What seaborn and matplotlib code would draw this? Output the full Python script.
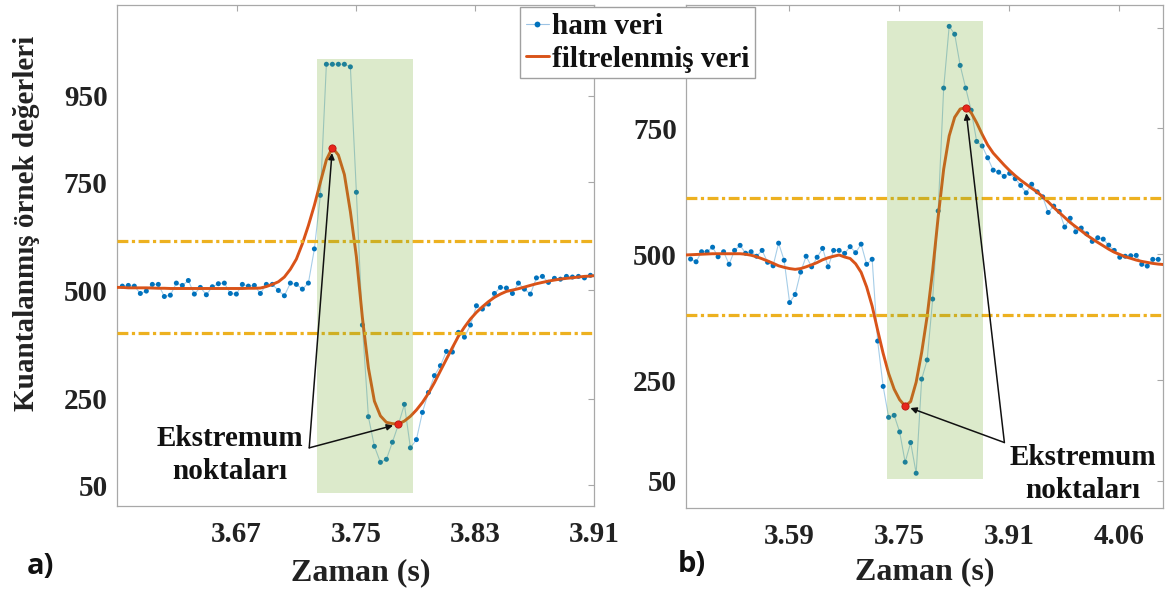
import numpy as np
import pandas as pd
import matplotlib
matplotlib.use("Agg")
import matplotlib.pyplot as plt
from matplotlib.lines import Line2D
from matplotlib.patches import Rectangle
import seaborn as sns

# ---------------- panel a) ----------------
a_t0 = 3.5933          # time of first raw sample (s)
a_dt = 0.004027        # sample period (s)
a_raw = [510, 511.6, 510, 493, 498.5, 514, 514, 486, 489, 517,
         511.6, 523, 491.6, 507, 490, 508.5, 515.5, 517, 493, 491.6,
         514, 510, 511.6, 493, 514, 514, 500, 487.7, 517, 514,
         503, 517, 596, 720, 1023, 1023, 1023, 1023, 1017, 727,
         420, 208, 139.5, 102.5, 109.5, 149, 190, 236.6, 136, 155,
         218, 264, 303, 326, 359, 357.5, 403, 392, 420, 464.6,
         457, 468.5, 493, 507, 505.5, 493, 517, 503, 491.6, 529,
         532.5, 518.6, 528, 526, 532.5, 531, 532.5, 529, 535, 535]
# filtered signal, starting one sample before a_t0
a_filt = [507, 507, 506, 506, 506, 506, 505.5, 505, 505, 504.5,
          504.5, 504.5, 504.5, 504.5, 504.5, 504.5, 504.5, 504.5, 504.5, 504.5,
          504.5, 504.5, 505, 505, 505.5, 509, 514, 520, 531, 549,
          572.5, 608, 650, 697, 750, 802, 830.5, 813, 768, 682,
          578, 437, 321, 244, 210, 195, 192, 191, 198, 209,
          223.5, 241, 262, 286.6, 314, 341, 368, 394, 415, 433.8,
          449.3, 462.3, 474, 484, 491.6, 497.8, 500.8, 504, 507.8, 511.7,
          515.5, 518.6, 521.6, 524, 526.3, 527.9, 529.3, 531, 532.5, 533.2,
          534.8]
a_thresholds = [615, 401]
a_window = [3.7237, 3.7885, 32, 1036]          # t0, t1, v0, v1
a_xticks = [3.67, 3.75, 3.83, 3.91]
a_xticklabels = ["3.67", "3.75", "3.83", "3.91"]
a_xlim = [3.5895, 3.91]
a_ylim = [1.5, 1160]
a_yticklabels = ["50", "250", "500", "750", "950"]

# ---------------- panel b) ----------------
b_t0 = 3.4512
b_dt = 0.007876
b_raw = [490.4, 485, 505, 505, 514, 495, 505, 480, 507.6, 517.6,
         502, 505, 496, 507.6, 484, 477, 522, 488, 404, 420,
         464.5, 496, 475, 494, 511.6, 475, 507.6, 507.6, 501.7, 515,
         503, 520, 480, 490, 327.5, 237.5, 176, 180, 147, 87,
         126, 65, 252, 290, 411, 586, 830, 952.6, 937, 875,
         830, 786, 724, 715, 691.6, 667, 663, 654.6, 660.6, 650,
         636.7, 622, 639, 624, 614, 583, 595.6, 585, 554, 571.5,
         544.5, 552, 540.6, 525.5, 532.7, 530, 518, 507.6, 494, 496,
         497, 497.7, 480, 476.5, 489.8, 489.8]
b_filt = [498.5, 499, 499.5, 500, 500.5, 501, 501, 501, 501, 501,
          501, 500, 498, 495, 491, 486.6, 482, 477, 474, 471.5,
          470, 471.5, 475, 479, 483.5, 489, 493, 496, 498.5, 494.5,
          491.5, 481, 464, 435, 397, 349, 303, 263, 232, 211,
          198.3, 207.5, 246, 305, 377, 468, 574, 669, 735, 772,
          788.5, 791, 781, 761, 738, 717, 701, 689, 677, 666,
          656, 647, 639, 631, 623.5, 614, 604, 593, 583, 573,
          563, 554.6, 546.6, 538, 530.7, 523.5, 516.8, 510, 504, 499.6,
          495, 491.8, 488.4, 485.8, 483.8, 481.8, 480.4, 479.5]
b_thresholds = [612, 380]
b_window = [3.732, 3.870, 53, 963]
b_xticks = [3.5925, 3.75, 3.9075, 4.065]
b_xticklabels = ["3.59", "3.75", "3.91", "4.06"]
b_xlim = [3.4446, 4.127]
b_ylim = [-4, 995]
# the top label sits under the legend box
b_yticklabels = ["50", "250", "500", "750", ""]

yticks = [50, 250, 500, 750, 950]

BLUE = "#0072BD"
ORANGE = "#D95319"
YELLOW = "#EDB120"
GREEN = "#77AC30"
RED = "#E8261B"
SPINE = "#a8a8a8"
TEXT = "#222222"

sns.set_theme(style="white")
plt.rcParams["font.family"] = ["Liberation Serif", "DejaVu Serif"]
plt.rcParams["font.weight"] = "bold"
plt.rcParams["axes.labelweight"] = "bold"


def draw_panel(ax, t0, dt, raw, filt, thresholds, window, note_xy, note_from):
    t_raw = t0 + dt * np.arange(len(raw))
    t_filt = t0 + dt * (np.arange(len(filt)) - 1)
    df_raw = pd.DataFrame({"t": t_raw, "v": raw})
    df_filt = pd.DataFrame({"t": t_filt, "v": filt})

    sns.lineplot(data=df_raw, x="t", y="v", ax=ax, color=BLUE, lw=0.8,
                 alpha=0.35, estimator=None, sort=False, zorder=1)
    sns.scatterplot(data=df_raw, x="t", y="v", ax=ax, color=BLUE, s=13,
                    edgecolor="none", linewidth=0, zorder=2)
    sns.lineplot(data=df_filt, x="t", y="v", ax=ax, color=ORANGE, lw=2.1,
                 estimator=None, sort=False, zorder=3)
    for th in thresholds:
        ax.axhline(th, color=YELLOW, lw=2.3, ls=(0, (3.4, 1.1, 1.0, 1.1)),
                   zorder=3.5)

    x0, x1, y0, y1 = window
    ax.add_patch(Rectangle((x0, y0), x1 - x0, y1 - y0, facecolor=GREEN,
                           alpha=0.25, edgecolor="none", zorder=4))

    # extrema of the filtered signal inside the window
    inside = df_filt[(df_filt.t >= x0) & (df_filt.t <= x1)]
    ext = [inside.loc[inside.v.idxmax()], inside.loc[inside.v.idxmin()]]
    for row in ext:
        ax.plot([row.t], [row.v], "o", ms=5.2, mfc=RED, mec="#b81510",
                mew=0.6, zorder=6)
        ax.annotate("", xy=(row.t, row.v), xytext=note_from,
                    arrowprops=dict(arrowstyle="-|>", color="#111111",
                                    lw=1.1, shrinkA=0, shrinkB=4,
                                    mutation_scale=9),
                    zorder=7)
    ax.text(note_xy[0], note_xy[1], "Ekstremum\nnoktaları", ha="center",
            va="center", fontsize=21, fontweight="bold", color="#111111",
            linespacing=1.3, zorder=8)


def style_axes(ax, xticks, xticklabels, yticklabels, xlim, ylim):
    ax.set_xlim(*xlim)
    ax.set_ylim(*ylim)
    ax.set_xticks(xticks)
    ax.set_xticklabels(xticklabels)
    ax.set_yticks(yticks)
    ax.set_yticklabels(yticklabels)
    ax.tick_params(direction="in", length=4, width=0.8, color=SPINE,
                   top=True, right=True, labelsize=21, labelcolor=TEXT)
    ax.tick_params(axis="y", pad=6.5)
    ax.tick_params(axis="x", pad=10.5)
    for s in ax.spines.values():
        s.set_color(SPINE)
        s.set_linewidth(0.9)
        s.set_visible(True)
    ax.set_xlabel("Zaman (s)", fontsize=23, fontweight="bold", color=TEXT,
                  va="center")
    ax.set_ylabel("")


fig = plt.figure(figsize=(11.69, 5.97), dpi=100)
axA = fig.add_axes([0.0998, 0.1524, 0.4086, 0.8392])
axB = fig.add_axes([0.5868, 0.1491, 0.4078, 0.8425])

draw_panel(axA, a_t0, a_dt, a_raw, a_filt, a_thresholds, a_window,
           note_xy=(3.6655, 119), note_from=(3.7187, 136))
draw_panel(axB, b_t0, b_dt, b_raw, b_filt, b_thresholds, b_window,
           note_xy=(4.013, 63), note_from=(3.9004, 126))

style_axes(axA, a_xticks, a_xticklabels, a_yticklabels, a_xlim, a_ylim)
style_axes(axB, b_xticks, b_xticklabels, b_yticklabels, b_xlim, b_ylim)
axA.xaxis.set_label_coords(0.511, -0.134)
axB.xaxis.set_label_coords(0.500, -0.127)

axA.set_ylabel("Kuantalanmış örnek değerleri", fontsize=21,
               fontweight="bold", color=TEXT, va="center")
axA.yaxis.set_label_coords(-0.188, 0.565)

fig.text(40 / 1169, 1 - 566 / 597, "a)", family=["Open Sans", "DejaVu Sans"],
         fontsize=21, fontweight="bold", color="#111111", ha="center",
         va="center")
fig.text(692 / 1169, 1 - 564 / 597, "b)", family=["Open Sans", "DejaVu Sans"],
         fontsize=21, fontweight="bold", color="#111111", ha="center",
         va="center")

handles = [
    Line2D([], [], color="#9cc3e4", lw=0.8, marker="o", ms=4.2, mec="none",
           mfc=BLUE),
    Line2D([], [], color=ORANGE, lw=2.1),
]
leg = fig.legend(handles, ["ham veri", "filtrelenmiş veri"],
                 loc="upper left", bbox_to_anchor=(0.4448, 0.9883),
                 frameon=True, fancybox=False, edgecolor="#a0a0a0",
                 framealpha=1, fontsize=21, borderpad=0.2,
                 handlelength=0.8, handletextpad=0.1, labelspacing=0.2,
                 borderaxespad=0)
leg.get_frame().set_linewidth(1.0)
for txt in leg.get_texts():
    txt.set_color("#111111")

fig.savefig("out.png", dpi=100)
